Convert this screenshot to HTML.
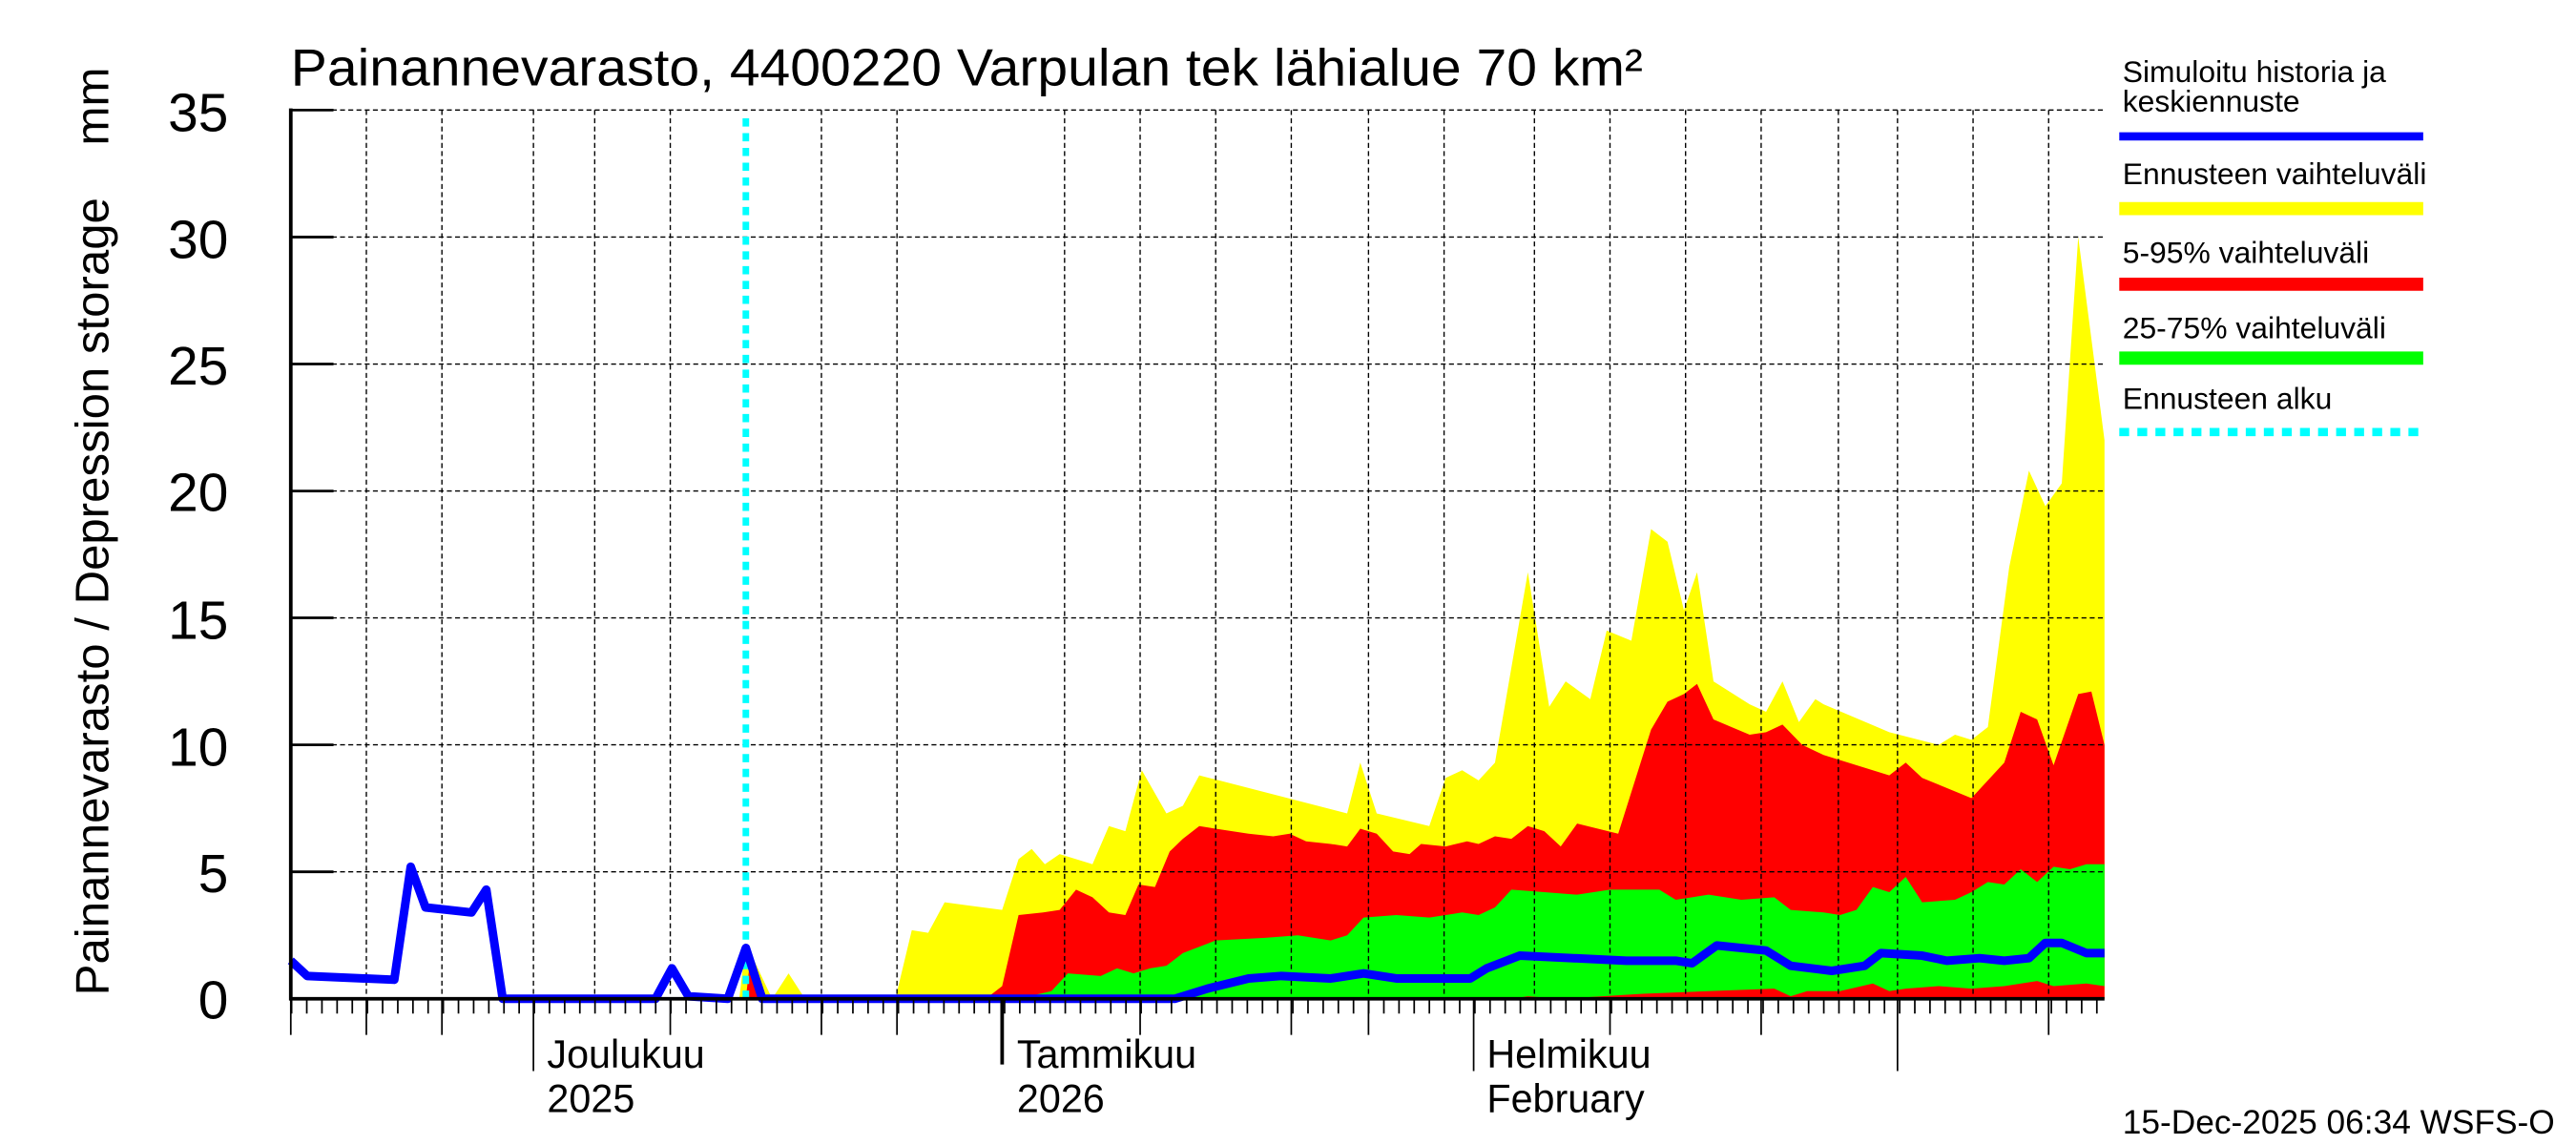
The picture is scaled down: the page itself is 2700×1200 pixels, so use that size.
<!DOCTYPE html>
<html><head><meta charset="utf-8"><style>html,body{margin:0;padding:0;background:#fff}svg{display:block}</style></head>
<body>
<svg width="2700" height="1200" viewBox="0 0 1568 697" preserveAspectRatio="none" xmlns="http://www.w3.org/2000/svg" font-family="Liberation Sans, sans-serif">
<rect width="1568" height="697" fill="#fff"/>
<g transform="translate(0,608) scale(1,-15.457)">
<polygon fill="#ffff00" points="450,0 454,2.2 470,0 480,1 490,0 545,0 555,2.7 565,2.6 575,3.8 610,3.5 620,5.5 628,5.9 636,5.3 645,5.7 665,5.3 675,6.8 685,6.6 695,9 710,7.3 720,7.6 730,8.8 820,7.3 828,9.3 838,7.3 870,6.8 880,8.7 890,9 900,8.6 910,9.3 930,16.8 943,11.5 953,12.5 968,11.8 978,14.5 993,14.1 1005,18.5 1015,18 1025,15.3 1033,16.8 1043,12.5 1065,11.6 1075,11.3 1085,12.5 1095,10.9 1105,11.8 1110,11.6 1150,10.5 1180,10 1190,10.4 1200,10.2 1210,10.7 1223,17 1235,20.8 1245,19.4 1255,20.3 1265,30 1281,22 1281,0"/>
<polygon fill="#ff0000" points="454,0 456,1.2 465,0 600,0 610,0.5 620,3.3 635,3.4 645,3.5 655,4.3 665,4 675,3.4 685,3.3 693,4.5 703,4.4 712,5.8 720,6.3 730,6.8 760,6.5 775,6.4 785,6.5 795,6.2 810,6.1 820,6 828,6.7 838,6.5 848,5.8 858,5.7 865,6.1 880,6 893,6.2 900,6.1 910,6.4 920,6.3 930,6.8 940,6.6 950,6 960,6.9 985,6.5 1005,10.6 1015,11.7 1025,12 1033,12.4 1043,11 1065,10.4 1075,10.5 1085,10.8 1097,10 1110,9.6 1150,8.8 1160,9.3 1170,8.7 1200,7.9 1210,8.6 1220,9.3 1230,11.3 1240,11 1250,9.2 1265,12 1273,12.1 1281,10 1281,0"/>
<polygon fill="#00ff00" points="620,0 640,0.3 650,1 670,0.9 680,1.2 690,1 700,1.2 710,1.3 720,1.8 740,2.3 770,2.4 790,2.5 810,2.3 820,2.5 830,3.2 850,3.3 870,3.2 880,3.3 890,3.4 900,3.3 910,3.6 920,4.3 940,4.2 960,4.1 980,4.3 1010,4.3 1020,3.9 1030,4 1040,4.1 1060,3.9 1080,4 1090,3.5 1110,3.4 1120,3.3 1130,3.5 1140,4.4 1150,4.2 1160,4.8 1170,3.8 1190,3.9 1200,4.2 1210,4.6 1220,4.5 1230,5.1 1240,4.6 1250,5.2 1260,5.1 1270,5.3 1281,5.3 1281,0.5 1270,0.6 1250,0.5 1240,0.7 1220,0.5 1200,0.4 1180,0.5 1160,0.4 1150,0.3 1140,0.6 1120,0.3 1100,0.3 1090,0.1 1080,0.4 1040,0.3 1000,0.2 950,0 930,0.1 920,0"/>
</g>
<g stroke="#000" stroke-width="0.8" stroke-dasharray="3,2">
<line x1="177" y1="530.7" x2="1281" y2="530.7"/><line x1="177" y1="453.4" x2="1281" y2="453.4"/><line x1="177" y1="376.1" x2="1281" y2="376.1"/><line x1="177" y1="298.9" x2="1281" y2="298.9"/><line x1="177" y1="221.6" x2="1281" y2="221.6"/><line x1="177" y1="144.3" x2="1281" y2="144.3"/><line x1="177" y1="67" x2="1281" y2="67"/>
<line x1="223" y1="67" x2="223" y2="608"/><line x1="269" y1="67" x2="269" y2="608"/><line x1="324.7" y1="67" x2="324.7" y2="608"/><line x1="362" y1="67" x2="362" y2="608"/><line x1="408" y1="67" x2="408" y2="608"/><line x1="500" y1="67" x2="500" y2="608"/><line x1="546" y1="67" x2="546" y2="608"/><line x1="648" y1="67" x2="648" y2="608"/><line x1="694" y1="67" x2="694" y2="608"/><line x1="740" y1="67" x2="740" y2="608"/><line x1="786" y1="67" x2="786" y2="608"/><line x1="833" y1="67" x2="833" y2="608"/><line x1="879" y1="67" x2="879" y2="608"/><line x1="934" y1="67" x2="934" y2="608"/><line x1="980" y1="67" x2="980" y2="608"/><line x1="1026" y1="67" x2="1026" y2="608"/><line x1="1072" y1="67" x2="1072" y2="608"/><line x1="1119" y1="67" x2="1119" y2="608"/><line x1="1155" y1="67" x2="1155" y2="608"/><line x1="1201" y1="67" x2="1201" y2="608"/><line x1="1247" y1="67" x2="1247" y2="608"/>
</g>
<line x1="454" y1="72" x2="454" y2="608" stroke="#00ffff" stroke-width="4" stroke-dasharray="5,4"/>
<g transform="translate(0,608) scale(1,-15.457)">
<polyline fill="none" stroke="#0000ff" stroke-width="9" vector-effect="non-scaling-stroke" stroke-linejoin="round" points="177,1.5 187,0.9 240,0.75 250,5.2 259,3.6 287,3.4 296,4.3 306,0 399,0 409,1.2 419,0.1 443,0 454,2.0 464,0 715,0 735,0.4 760,0.8 780,0.9 810,0.8 830,1.0 850,0.8 895,0.8 905,1.2 925,1.7 990,1.5 1020,1.5 1030,1.4 1045,2.1 1075,1.9 1090,1.3 1115,1.1 1135,1.3 1145,1.8 1170,1.7 1185,1.5 1205,1.6 1220,1.5 1235,1.6 1245,2.2 1255,2.2 1270,1.8 1281,1.8"/>
</g>
<g stroke="#000">
<line x1="177" y1="66" x2="177" y2="609" stroke-width="2.2"/>
<line x1="176" y1="608" x2="1281" y2="608" stroke-width="2.2"/>
<line x1="177" y1="613" x2="1281" y2="613" stroke-width="8" stroke-dasharray="1,8.234"/>
<g stroke-width="1.6"><line x1="177" y1="530.7" x2="203" y2="530.7"/><line x1="177" y1="453.4" x2="203" y2="453.4"/><line x1="177" y1="376.1" x2="203" y2="376.1"/><line x1="177" y1="298.9" x2="203" y2="298.9"/><line x1="177" y1="221.6" x2="203" y2="221.6"/><line x1="177" y1="144.3" x2="203" y2="144.3"/><line x1="177" y1="67" x2="203" y2="67"/></g>
<g stroke-width="1"><line x1="177" y1="608" x2="177" y2="630"/><line x1="223" y1="608" x2="223" y2="630"/><line x1="269" y1="608" x2="269" y2="630"/><line x1="324.7" y1="608" x2="324.7" y2="652"/><line x1="408" y1="608" x2="408" y2="630"/><line x1="500" y1="608" x2="500" y2="630"/><line x1="546" y1="608" x2="546" y2="630"/><line x1="694" y1="608" x2="694" y2="630"/><line x1="786" y1="608" x2="786" y2="630"/><line x1="833" y1="608" x2="833" y2="630"/><line x1="897" y1="608" x2="897" y2="652"/><line x1="980" y1="608" x2="980" y2="630"/><line x1="1072" y1="608" x2="1072" y2="630"/><line x1="1155" y1="608" x2="1155" y2="652"/><line x1="1247" y1="608" x2="1247" y2="630"/></g>
<line x1="610" y1="608" x2="610" y2="648" stroke-width="2.2"/>
</g>
<g font-size="33" text-anchor="end" fill="#000">
<text x="139" y="620">0</text><text x="139" y="543">5</text><text x="139" y="466">10</text><text x="139" y="389">15</text><text x="139" y="311">20</text><text x="139" y="234">25</text><text x="139" y="157">30</text><text x="139" y="80">35</text>
</g>
<text x="177" y="52" font-size="32" textLength="823" lengthAdjust="spacingAndGlyphs">Painannevarasto, 4400220 Varpulan tek lähialue 70 km²</text>
<text transform="translate(66,606) rotate(-90)" font-size="28.5" xml:space="preserve" textLength="565" lengthAdjust="spacingAndGlyphs">Painannevarasto / Depression storage    mm</text>
<g font-size="24">
<text x="333" y="650">Joulukuu</text><text x="333" y="677">2025</text>
<text x="619" y="650">Tammikuu</text><text x="619" y="677">2026</text>
<text x="905" y="650">Helmikuu</text><text x="905" y="677">February</text>
</g>
<g font-size="18.5">
<text x="1292" y="50">Simuloitu historia ja</text><text x="1292" y="68">keskiennuste</text>
<text x="1292" y="112">Ennusteen vaihteluväli</text>
<text x="1292" y="160">5-95% vaihteluväli</text>
<text x="1292" y="206">25-75% vaihteluväli</text>
<text x="1292" y="249">Ennusteen alku</text>
<text x="1292" y="690" font-size="20.5">15-Dec-2025 06:34 WSFS-O</text>
</g>
<line x1="1290" y1="83" x2="1475" y2="83" stroke="#0000ff" stroke-width="5"/>
<line x1="1290" y1="127" x2="1475" y2="127" stroke="#ffff00" stroke-width="8"/>
<line x1="1290" y1="173" x2="1475" y2="173" stroke="#ff0000" stroke-width="8"/>
<line x1="1290" y1="218" x2="1475" y2="218" stroke="#00ff00" stroke-width="8"/>
<line x1="1290" y1="263" x2="1475" y2="263" stroke="#00ffff" stroke-width="5" stroke-dasharray="6,5"/>
</svg>
</body></html>
